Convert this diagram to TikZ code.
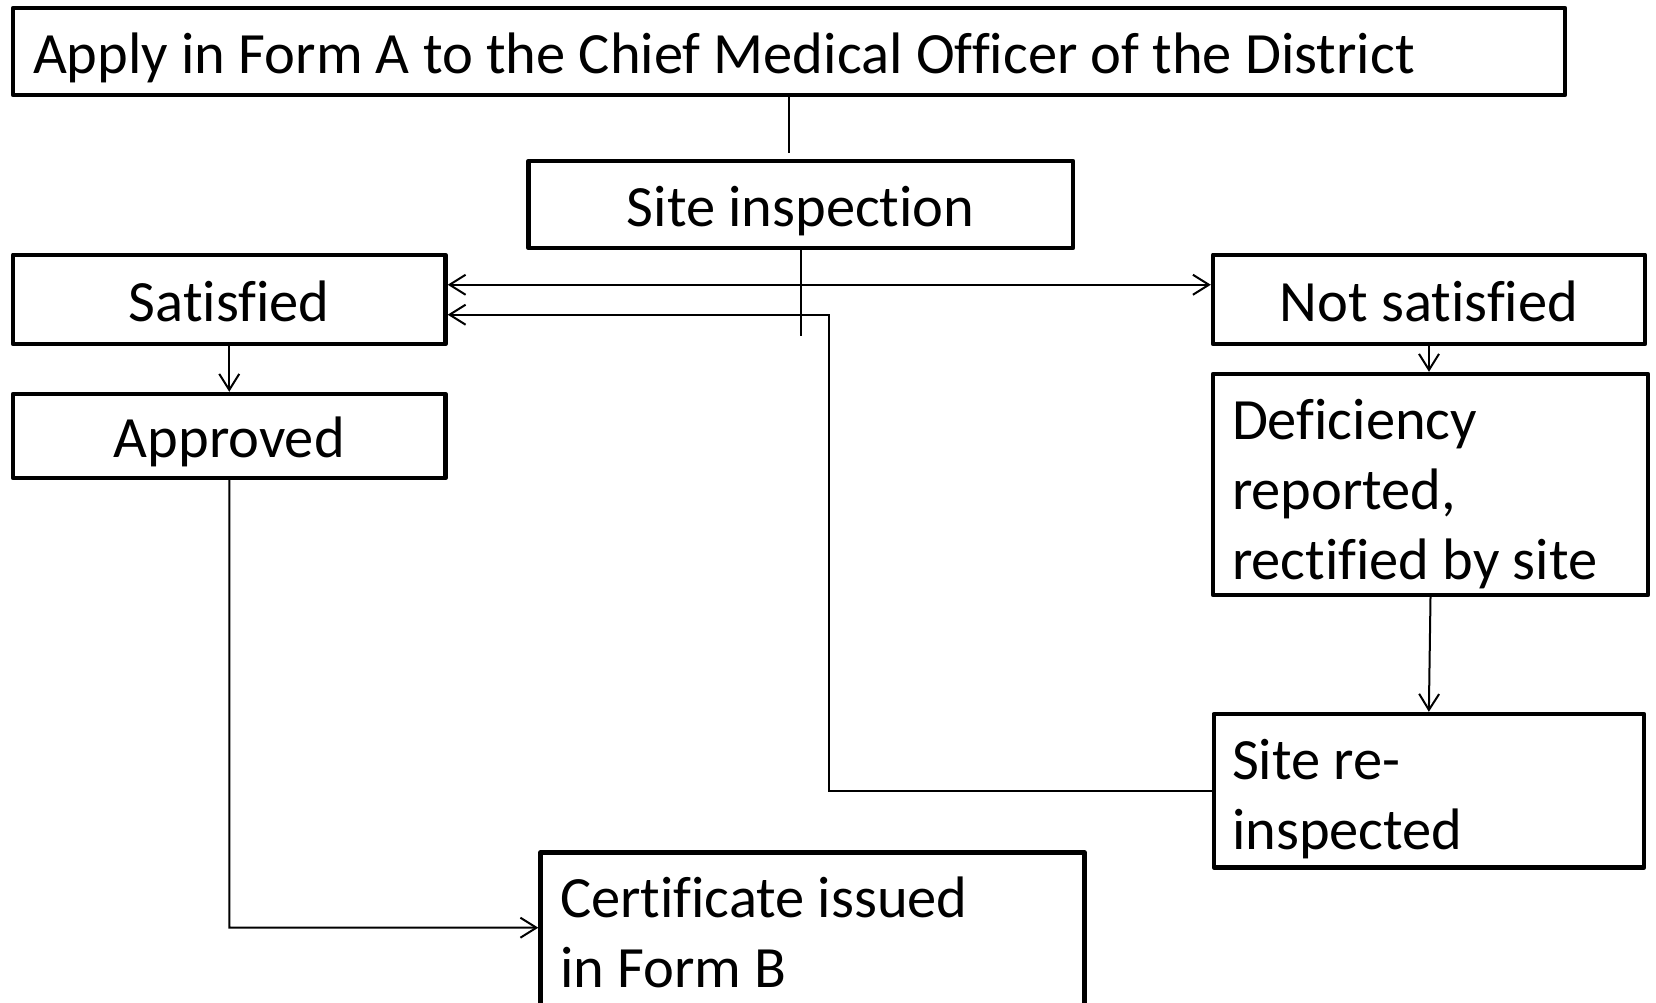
\documentclass[tikz,border=0pt]{standalone}
\usepackage{fontspec}
\setmainfont{Carlito}[Ligatures=NoCommon]
\usetikzlibrary{arrows.meta,calc}
\begin{document}
\begin{tikzpicture}[x=1pt,y=-1pt,
  box/.style={draw=black, line width=4.4pt, line join=round, inner sep=0pt},
  lbl/.style={inner sep=0pt, outer sep=0pt, font=\fontsize{58.5}{70}\selectfont, text=black},
  conn/.style={draw=black, line width=2pt},
  barb/.tip={Straight Barb[length=16pt,width=20pt,line width=2pt]},
  arr/.style={conn, -barb},
  darr/.style={conn, barb-barb},
]
\useasboundingbox (0,0) rectangle (1656,1003);
\fill[white] (0,0) rectangle (1656,1003);

% boxes
\node[box, minimum width=1552pt, minimum height=87pt]   (b1) at (789,51.5) {};
\node[box, minimum width=544.5pt, minimum height=87pt]  (b2) at (800.75,204.5) {};
\node[box, minimum width=432.5pt, minimum height=89.3pt] (b3) at (229.25,299.35) {};
\node[box, minimum width=432pt, minimum height=89.3pt]  (b4) at (1429,299.35) {};
\node[box, minimum width=432.5pt, minimum height=84pt]  (b5) at (229.25,436) {};
\node[box, minimum width=435pt, minimum height=221pt]   (b6) at (1430.5,484.5) {};
\node[box, minimum width=430.3pt, minimum height=153.5pt] (b7) at (1428.85,790.75) {};
\node[box, minimum width=544pt, minimum height=158.5pt] (b8) at (812.5,931.75) {};

% texts
\node[lbl, anchor=base west] (t1) at (33,73.5) {Apply in Form A to the Chief Medical Officer of the District};
\node[lbl, anchor=base] (t2) at (800.75,226.5) {Site inspection};
\node[lbl, anchor=base] (t3) at (229.25,321) {Satisfied};
\node[lbl, anchor=base] (t4) at (1429,321) {Not satisfied};
\node[lbl, anchor=base] (t5) at (229.25,457.5) {Approved};
\node[lbl, anchor=north west, align=left] (t6) at (1232,394.3) {\rule{0pt}{45pt}Deficiency\\reported,\\rectified by site};
\node[lbl, anchor=north west, align=left] (t7) at (1232,734) {\rule{0pt}{45pt}Site re-\\inspected};
\node[lbl, anchor=north west, align=left] (t8) at (560,872.7) {\rule{0pt}{45pt}Certificate issued\\in Form B};

% free ends
\coordinate (c1) at (789,153);
\coordinate (c2) at (800.75,336);
\coordinate (c4) at (829,314.7);
\coordinate (c5) at (229.3,927.7);

% connectors
\draw[conn] (b1.south) -- (c1);
\draw[conn] (b2.south) -- (c2);
\draw[darr] ([yshift=14.6pt]b3.east) -- ([yshift=14.6pt]b4.west);
\draw[arr] (b7.west) -| (c4) -- (c4 -| b3.east);
\draw[arr] (b3.south) -- (b5.north);
\draw[arr] (b4.south) -- (b4.south |- b6.north);
\draw[arr] (b6.south) -- (b7.north);
\draw[arr] (b5.south) -- (c5) -- (c5 -| b8.west);
\end{tikzpicture}
\end{document}
